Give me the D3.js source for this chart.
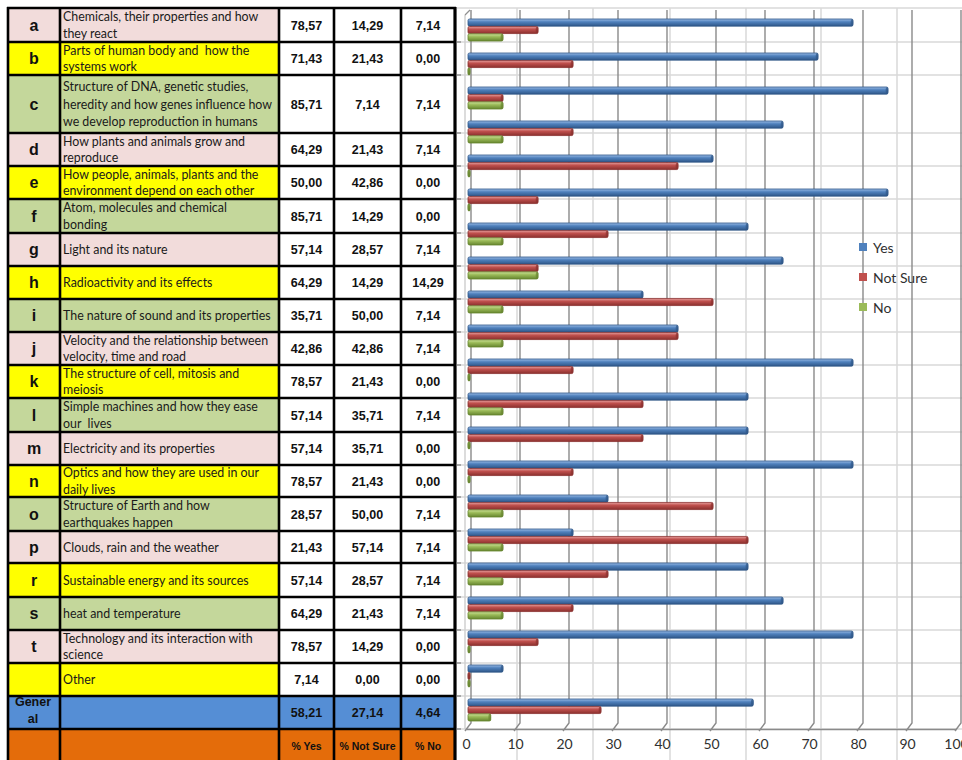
<!DOCTYPE html>
<html><head><meta charset="utf-8">
<script src="https://cdn.jsdelivr.net/npm/d3@7"></script>
<style>body{margin:0;background:#fff}svg{display:block}</style>
</head><body>
<svg id="c" width="962" height="760"></svg>
<script>
// ---------- DATA ----------
const letters = ["a","b","c","d","e","f","g","h","i","j","k","l","m","n","o","p","r","s","t","","Gener\nal"];
const topics = [
  "Chemicals, their properties and how\nthey react",
  "Parts of human body and  how the\nsystems work",
  "Structure of DNA, genetic studies,\nheredity and how genes influence how\nwe develop reproduction in humans",
  "How plants and animals grow and\nreproduce",
  "How people, animals, plants and the\nenvironment depend on each other",
  "Atom, molecules and chemical\nbonding",
  "Light and its nature",
  "Radioactivity and its effects",
  "The nature of sound and its properties",
  "Velocity and the relationship between\nvelocity, time and road",
  "The structure of cell, mitosis and\nmeiosis",
  "Simple machines and how they ease\nour  lives",
  "Electricity and its properties",
  "Optics and how they are used in our\ndaily lives",
  "Structure of Earth and how\nearthquakes happen",
  "Clouds, rain and the weather",
  "Sustainable energy and its sources",
  "heat and temperature",
  "Technology and its interaction with\nscience",
  "Other",
  ""
];
const yesVals     = [78.57,71.43,85.71,64.29,50.00,85.71,57.14,64.29,35.71,42.86,78.57,57.14,57.14,78.57,28.57,21.43,57.14,64.29,78.57,7.14,58.21];
const notSureVals = [14.29,21.43,7.14,21.43,42.86,14.29,28.57,14.29,50.00,42.86,21.43,35.71,35.71,21.43,50.00,57.14,28.57,21.43,14.29,0.00,27.14];
const noVals      = [7.14,0.00,7.14,7.14,0.00,0.00,7.14,14.29,7.14,7.14,0.00,7.14,0.00,0.00,7.14,7.14,7.14,7.14,0.00,0.00,4.64];
const seriesNames = ["Yes","Not Sure","No"];
const headerLabels = ["% Yes","% Not Sure","% No"];
const xTicks = [0,10,20,30,40,50,60,70,80,90,100];

// ---------- LAYOUT / STYLE ----------
const svg = d3.select("#c");
const rowBounds = [8,42,75,133,166,199,233,266,299,332,365,398,432,465,497,531,563,597,630,663,696,729,760];
const colBounds = [8,60,279,334,401,455];
const sheetCols = [517,593,670,746,821,897];
const rowColors = ["#F2DCDB","#FFFF00","#C4D79B"];
const generalColor = "#558ED5", headerColor = "#E46C0A";
const seriesColors = {
  "Yes":      {light:"#9dbde6", base:"#4F81BD", dark:"#2f5788"},
  "Not Sure": {light:"#e6a09e", base:"#C0504D", dark:"#8a302e"},
  "No":       {light:"#cfe29d", base:"#9BBB59", dark:"#66852f"}
};
const fmt = v => d3.format(".2f")(v).replace(".", ",");

svg.append("rect").attr("width",962).attr("height",760).attr("fill","#fff");

// spreadsheet grid behind the chart
const grid = svg.append("g").attr("stroke","#d9d9d9").attr("stroke-width",1.5);
grid.selectAll("line.h").data(rowBounds.slice(0,-1)).join("line")
  .attr("x1",457).attr("x2",962).attr("y1",d=>d).attr("y2",d=>d);
grid.selectAll("line.v").data(sheetCols).join("line")
  .attr("x1",d=>d).attr("x2",d=>d).attr("y1",8).attr("y2",760);

// ---------- CHART ----------
const x = d3.scaleLinear().domain([0,100]).range([466,956]);
const depth = 5;
const yBand = d3.scaleBand().domain(d3.range(yesVals.length)).range([15,729]);
const ySub = d3.scaleBand().domain(seriesNames).range([4,26]).paddingInner(0.04);

// walls / gridlines
svg.append("line").attr("x1",465).attr("x2",465).attr("y1",15).attr("y2",729)
  .attr("stroke","#d0d0d0").attr("stroke-width",1.5);
svg.append("line").attr("x1",465).attr("y1",15).attr("x2",465+depth).attr("y2",10)
  .attr("stroke","#909090").attr("stroke-width",1.2);
svg.append("g").selectAll("path").data(xTicks).join("path")
  .attr("d",d=>`M${x(d)+depth},10V723L${x(d)-1},731`)
  .attr("fill","none").attr("stroke","#8a8a8a").attr("stroke-width",1.4);

// x axis
const xAxis = svg.append("g").attr("transform","translate(0,729)")
  .call(d3.axisBottom(x).tickValues(xTicks).tickSize(0).tickPadding(10));
xAxis.select(".domain").attr("stroke","#8a8a8a").attr("stroke-width",1.4);
xAxis.selectAll("text").attr("font-family","Lato, 'Open Sans', sans-serif")
  .attr("font-size",14).attr("fill","#303030");

// gradients
const defs = svg.append("defs");
seriesNames.forEach((s,k)=>{
  const c = seriesColors[s];
  const g = defs.append("linearGradient").attr("id","g"+k).attr("x1",0).attr("x2",0).attr("y1",0).attr("y2",1);
  g.append("stop").attr("offset","0%").attr("stop-color",c.light);
  g.append("stop").attr("offset","40%").attr("stop-color",c.base);
  g.append("stop").attr("offset","100%").attr("stop-color",c.dark);
});

const seriesData = [yesVals, notSureVals, noVals];
const bars = svg.append("g");
seriesNames.forEach((s,k)=>{
  const c = seriesColors[s];
  const vals = seriesData[k];
  const gs = bars.append("g");
  gs.selectAll("rect").data(vals).join("rect")
    .attr("x",468)
    .attr("y",(d,i)=>yBand(i)+ySub(s))
    .attr("width",d=>Math.max(2, x(d)+2-468))
    .attr("height",ySub.bandwidth())
    .attr("rx",1.5)
    .attr("fill",`url(#g${k})`)
    .attr("stroke",c.dark).attr("stroke-width",0.8);
  gs.selectAll("ellipse").data(vals).join("ellipse")
    .attr("cx",d=>468+Math.max(2, x(d)+2-468)-1)
    .attr("cy",(d,i)=>yBand(i)+ySub(s)+ySub.bandwidth()/2)
    .attr("rx",1.3).attr("ry",ySub.bandwidth()/2)
    .attr("fill",c.dark).attr("opacity",0.7);
});

// legend
const leg = svg.append("g").attr("transform","translate(859,243)");
seriesNames.forEach((s,k)=>{
  leg.append("rect").attr("x",0).attr("y",k*30).attr("width",8).attr("height",8)
    .attr("fill",seriesColors[s].base);
  leg.append("text").attr("x",14).attr("y",k*30+9.5).text(s)
    .attr("font-family","Lato, 'Open Sans', sans-serif").attr("font-size",14).attr("fill","#303030");
});

// ---------- TABLE ----------
const table = svg.append("g");
const nRows = rowBounds.length-1; // 22 (21 data + header)
for (let i=0;i<nRows;i++){
  const y0 = rowBounds[i], y1 = rowBounds[i+1];
  const isHeader = i===nRows-1, isGeneral = i===nRows-2;
  const leftFill = isHeader ? headerColor : isGeneral ? generalColor : rowColors[i%3];
  const valFill = isHeader ? headerColor : isGeneral ? generalColor : "#fff";
  for (let c=0;c<5;c++){
    table.append("rect").attr("x",colBounds[c]).attr("y",y0)
      .attr("width",colBounds[c+1]-colBounds[c]).attr("height",y1-y0)
      .attr("fill", c<2 ? leftFill : valFill);
  }
}
// letters
letters.forEach((t,i)=>{
  const y0 = rowBounds[i], y1 = rowBounds[i+1], cy=(y0+y1)/2;
  const lines = t.split("\n");
  if (lines.length===1){
    table.append("text").attr("x",34).attr("y",cy+5.5).attr("text-anchor","middle")
      .attr("font-family","'Liberation Sans', Arial, sans-serif").attr("font-weight","bold")
      .attr("font-size",16).attr("fill","#111").text(t);
  } else {
    lines.forEach((l,j)=>{
      table.append("text").attr("x",33).attr("y",y0+10+j*17).attr("text-anchor","middle")
        .attr("font-family","'Liberation Sans', Arial, sans-serif").attr("font-weight","bold")
        .attr("font-size",12.5).attr("fill","#111").text(l);
    });
  }
});
// topics
topics.forEach((t,i)=>{
  if(!t) return;
  const y0 = rowBounds[i], y1 = rowBounds[i+1], cy=(y0+y1)/2;
  const lines = t.split("\n");
  const lh = lines.length>2 ? 17.5 : 16.5;
  lines.forEach((l,j)=>{
    table.append("text").attr("x",63)
      .attr("y",cy + (j-(lines.length-1)/2)*lh + 4.5)
      .attr("font-family","Lato, Carlito, sans-serif").attr("font-size",12.4)
      .attr("fill","#1a1a1a").attr("xml:space","preserve").style("white-space","pre").text(l);
  });
});
// values
const valCenters = [306.5,367.5,428];
seriesData.forEach((vals,k)=>{
  vals.forEach((v,i)=>{
    const cy=(rowBounds[i]+rowBounds[i+1])/2;
    table.append("text").attr("x",valCenters[k]).attr("y",cy+4.5).attr("text-anchor","middle")
      .attr("font-family","'Liberation Sans', Arial, sans-serif").attr("font-weight","bold")
      .attr("font-size",12.5).attr("fill","#111").text(fmt(v));
  });
});
// header labels
headerLabels.forEach((h,k)=>{
  table.append("text").attr("x",valCenters[k]).attr("y",750).attr("text-anchor","middle")
    .attr("font-family","'Liberation Sans', Arial, sans-serif").attr("font-weight","bold")
    .attr("font-size",10.5).attr("fill","#111").text(h);
});
// borders
const borders = table.append("g").attr("stroke","#000");
borders.selectAll("line.r").data(rowBounds.slice(0,-1)).join("line")
  .attr("x1",7).attr("x2",456).attr("y1",d=>d).attr("y2",d=>d).attr("stroke-width",2.6);
borders.selectAll("line.c").data(colBounds).join("line")
  .attr("x1",d=>d).attr("x2",d=>d).attr("y1",7).attr("y2",760)
  .attr("stroke-width",(d,i)=> i===colBounds.length-1 ? 3.2 : 2.6);
// small extensions of row borders beyond the table
table.append("g").attr("stroke","#808080").attr("stroke-width",1.2)
  .selectAll("line").data(rowBounds.slice(1,-1)).join("line")
  .attr("x1",457).attr("x2",461).attr("y1",d=>d).attr("y2",d=>d);
</script>
</body></html>
